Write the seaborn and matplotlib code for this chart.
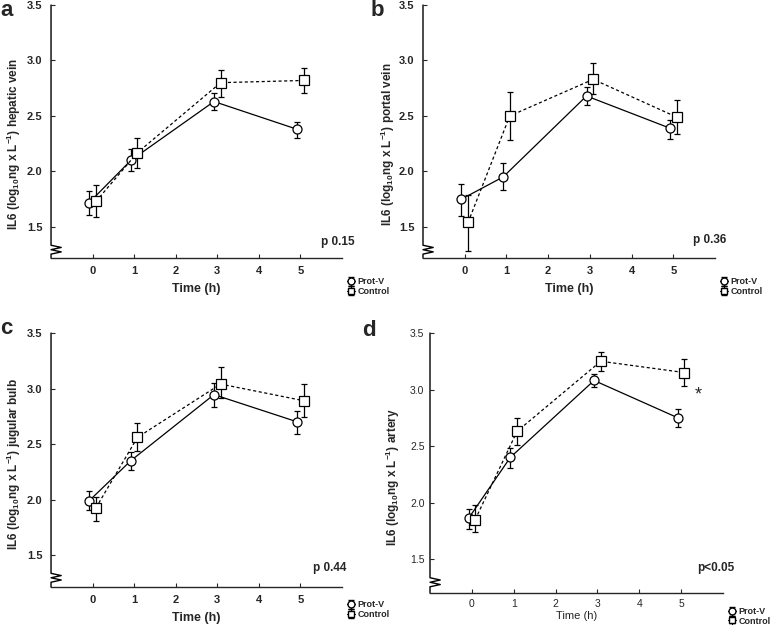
import numpy as np
import pandas as pd
import matplotlib
matplotlib.use('Agg')
import matplotlib.pyplot as plt
import seaborn as sns

# time points (h)
time_h = [0, 1, 3, 5]
group_names = ['Prot-V', 'Control']

# a - hepatic vein
a_protv = [1.72, 2.10, 2.63, 2.38]
a_protv_lo = [1.61, 2.00, 2.55, 2.30]
a_protv_hi = [1.82, 2.20, 2.71, 2.45]
a_ctrl = [1.73, 2.17, 2.80, 2.82]
a_ctrl_lo = [1.59, 2.03, 2.67, 2.71]
a_ctrl_hi = [1.88, 2.30, 2.91, 2.93]

# b - portal vein
b_protv = [1.75, 1.95, 2.68, 2.39]
b_protv_lo = [1.60, 1.83, 2.60, 2.29]
b_protv_hi = [1.89, 2.08, 2.76, 2.46]
b_ctrl = [1.54, 2.50, 2.83, 2.49]
b_ctrl_lo = [1.28, 2.28, 2.70, 2.34]
b_ctrl_hi = [1.79, 2.72, 2.98, 2.64]

# c - jugular bulb
c_protv = [1.99, 2.35, 2.945, 2.70]
c_protv_lo = [1.91, 2.27, 2.83, 2.59]
c_protv_hi = [2.08, 2.43, 3.05, 2.80]
c_ctrl = [1.925, 2.56, 3.04, 2.89]
c_ctrl_lo = [1.81, 2.44, 2.91, 2.74]
c_ctrl_hi = [2.02, 2.69, 3.19, 3.04]

# d - artery
d_protv = [1.86, 2.40, 3.08, 2.75]
d_protv_lo = [1.77, 2.31, 3.02, 2.67]
d_protv_hi = [1.94, 2.48, 3.14, 2.83]
d_ctrl = [1.85, 2.63, 3.25, 3.15]
d_ctrl_lo = [1.74, 2.51, 3.16, 3.03]
d_ctrl_hi = [1.98, 2.75, 3.33, 3.27]

panel_sites = ['hepatic vein', 'portal vein', 'jugular bulb', 'artery']
p_texts = ['p 0.15', 'p 0.36', 'p 0.44', 'p<0.05']

sns.set_style('ticks')
plt.rcParams['font.family'] = ['Liberation Sans', 'DejaVu Sans']
plt.rcParams['mathtext.fontset'] = 'custom'
plt.rcParams['mathtext.rm'] = 'Liberation Sans:bold'
plt.rcParams['mathtext.bf'] = 'Liberation Sans:bold'
plt.rcParams['mathtext.default'] = 'bf'

fig = plt.figure(figsize=(7.78, 6.25), dpi=100)

# axes rectangles [left, bottom, width, height]
rects = [[0.0656, 0.5872, 0.374, 0.4048],
         [0.5437, 0.5872, 0.3753, 0.4048],
         [0.0656, 0.0608, 0.374, 0.4064],
         [0.5527, 0.0512, 0.3766, 0.4160]]
ybottoms = [1.22, 1.22, 1.212, 1.20]
leg_y = [-0.113, -0.113, -0.089, -0.090]
ylab_pos = [(-0.096, 0.45), (-0.09, 0.45), (-0.096, 0.484), (-0.096, 0.446)]
p_pos = [(1.045, 0.063), (1.04, 0.07), (1.014, 0.075), (1.04, 0.096)]
letters = ['a', 'b', 'c', 'd']
letter_pos = [(7, 10), (377, 10), (6, 328), (369, 330)]

data = {
    'a': (a_protv, a_protv_lo, a_protv_hi, a_ctrl, a_ctrl_lo, a_ctrl_hi),
    'b': (b_protv, b_protv_lo, b_protv_hi, b_ctrl, b_ctrl_lo, b_ctrl_hi),
    'c': (c_protv, c_protv_lo, c_protv_hi, c_ctrl, c_ctrl_lo, c_ctrl_hi),
    'd': (d_protv, d_protv_lo, d_protv_hi, d_ctrl, d_ctrl_lo, d_ctrl_hi),
}

offset = {'Prot-V': -0.08, 'Control': 0.08}

for i, key in enumerate(letters):
    pv, pv_lo, pv_hi, ct, ct_lo, ct_hi = data[key]
    rows = []
    for g, m, lo, hi in [('Prot-V', pv, pv_lo, pv_hi), ('Control', ct, ct_lo, ct_hi)]:
        for t, v, l, h in zip(time_h, m, lo, hi):
            rows.append({'group': g, 'time': t, 'x': t + offset[g], 'value': v, 'lo': l, 'hi': h})
    df = pd.DataFrame(rows)

    ax = fig.add_axes(rects[i])
    small = key == 'd'

    for g in group_names:
        sub = df[df['group'] == g]
        ax.errorbar(sub['x'], sub['value'],
                    yerr=[sub['value'] - sub['lo'], sub['hi'] - sub['value']],
                    fmt='none', ecolor='black', elinewidth=0.9, capsize=2, capthick=0.9, zorder=2)

    sns.lineplot(data=df, x='x', y='value', style='group', style_order=group_names,
                 markers={'Prot-V': 'o', 'Control': 's'},
                 dashes={'Prot-V': '', 'Control': (2.5, 2)},
                 color='black', linewidth=0.9, markersize=6.5, mfc='white', mec='black', mew=0.9,
                 legend=False, ax=ax, zorder=3)

    ax.set_xlim(-1, 6)
    ax.set_ylim(ybottoms[i], 3.5)
    ax.set_xticks([0, 1, 2, 3, 4, 5])
    ax.set_yticks([1.5, 2.0, 2.5, 3.0, 3.5])
    ax.set_yticklabels(['1.5', '2.0', '2.5', '3.0', '3.5'])
    ax.tick_params(direction='in', length=3, width=0.8, labelsize=7.5 if small else 8,
                   pad=4 if small else 6)
    for lab in ax.get_xticklabels() + ax.get_yticklabels():
        lab.set_fontweight('normal' if small else 'bold')

    ax.set_xlabel('Time (h)', fontsize=8 if small else 9,
                  fontweight='normal' if small else 'bold', labelpad=2 if small else 5)
    ax.set_ylabel('IL6 (log$_{10}$ng x L$^{-1}$) ' + panel_sites[i], fontsize=8.5,
                  fontweight='bold')
    ax.yaxis.set_label_coords(*ylab_pos[i])

    sns.despine(ax=ax)
    ax.spines['left'].set_visible(False)
    ax.spines['bottom'].set_linewidth(1.0)

    # broken y axis
    ytop_break = 1.335
    zig_x = [0, 0, 0.035, 0.0, 0.035, 0.0, 0]
    zig_y = [3.5, ytop_break, ytop_break - 0.02, ytop_break - 0.04, ytop_break - 0.06,
             ytop_break - 0.08, ybottoms[i]]
    ax.plot(zig_x, zig_y, color='black', linewidth=1.0, clip_on=False,
            transform=ax.get_yaxis_transform())

    ax.text(p_pos[i][0], p_pos[i][1], p_texts[i], transform=ax.transAxes,
            ha='right', va='center', fontsize=8.5, fontweight='bold')

    if key == 'd':
        ax.text(5.4, 2.95, '*', ha='center', va='center', fontsize=13)

    # legend with error-bar glyphs
    h1 = ax.errorbar([np.nan], [np.nan], yerr=[[0.1]], fmt='-o', color='black', mfc='white',
                     ms=5, lw=0.8, elinewidth=0.8, capsize=2)
    h2 = ax.errorbar([np.nan], [np.nan], yerr=[[0.1]], fmt='-s', color='black', mfc='white',
                     ms=5, lw=0.8, elinewidth=0.8, capsize=2)
    leg = ax.legend([h1, h2], group_names, loc='center left', bbox_to_anchor=(1.017, leg_y[i]),
                    frameon=False, fontsize=6.5, handlelength=0.9, handletextpad=0.25,
                    labelspacing=0.05, borderpad=0, borderaxespad=0)
    for t in leg.get_texts():
        t.set_fontweight('bold')

for l, (px, py) in zip(letters, letter_pos):
    fig.text(px / 778, 1 - py / 625, l, fontsize=16, fontweight='bold', ha='center', va='center')

fig.savefig('out.png', dpi=100)
